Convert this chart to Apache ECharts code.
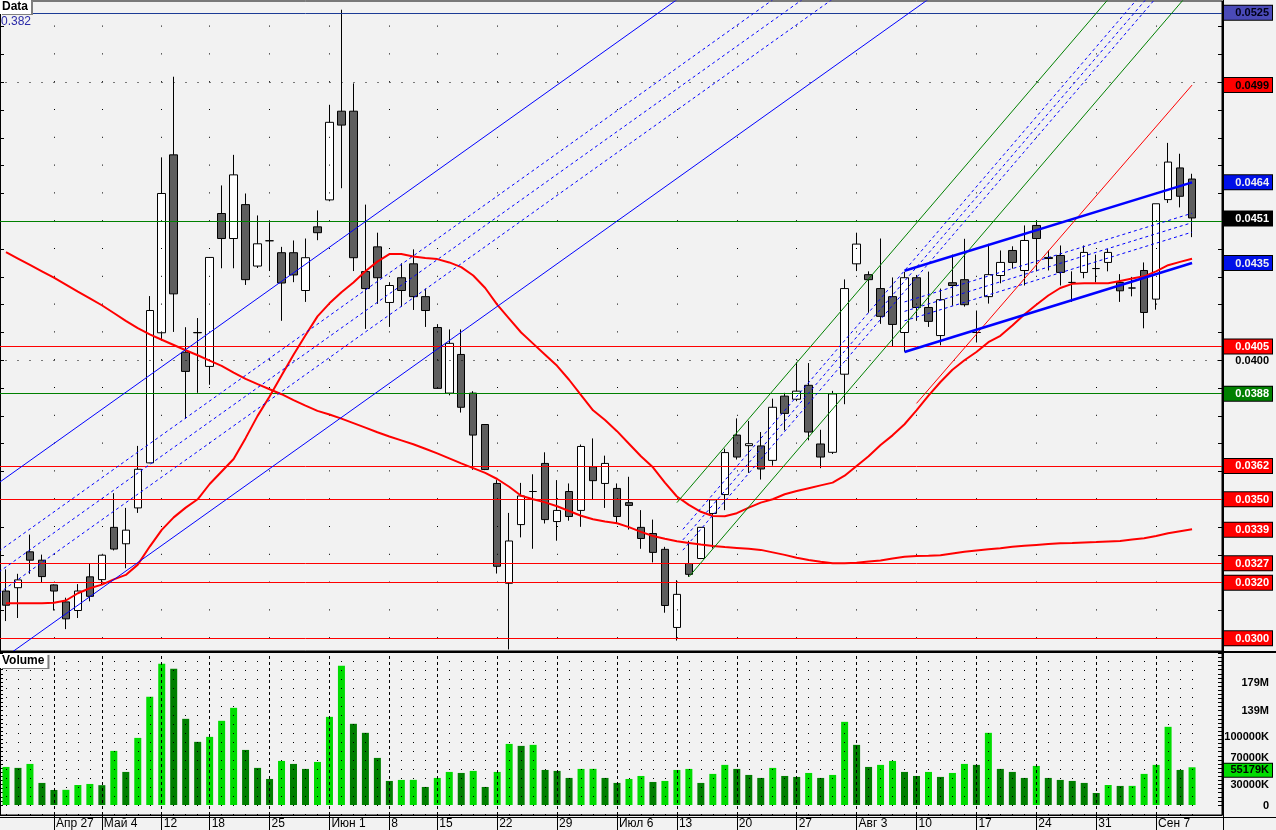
<!DOCTYPE html>
<html><head><meta charset="utf-8">
<script src="https://cdn.jsdelivr.net/npm/echarts@6/dist/echarts.min.js"></script>
<style>html,body{margin:0;padding:0;background:#f2f2f2;}#c{width:1276px;height:830px;}</style>
</head><body><div id="c"></div>
<script>
const dates = ['2009-04-21','2009-04-22','2009-04-23','2009-04-24','2009-04-27','2009-04-28','2009-04-29','2009-04-30',
'2009-05-04','2009-05-05','2009-05-06','2009-05-07','2009-05-08','2009-05-12','2009-05-13','2009-05-14','2009-05-15',
'2009-05-18','2009-05-19','2009-05-20','2009-05-21','2009-05-22','2009-05-25','2009-05-26','2009-05-27','2009-05-28','2009-05-29',
'2009-06-01','2009-06-02','2009-06-03','2009-06-04','2009-06-05','2009-06-08','2009-06-09','2009-06-10','2009-06-11',
'2009-06-15','2009-06-16','2009-06-17','2009-06-18','2009-06-19','2009-06-22','2009-06-23','2009-06-24','2009-06-25','2009-06-26',
'2009-06-29','2009-06-30','2009-07-01','2009-07-02','2009-07-03','2009-07-06','2009-07-07','2009-07-08','2009-07-09','2009-07-10',
'2009-07-13','2009-07-14','2009-07-15','2009-07-16','2009-07-17','2009-07-20','2009-07-21','2009-07-22','2009-07-23','2009-07-24',
'2009-07-27','2009-07-28','2009-07-29','2009-07-30','2009-07-31','2009-08-03','2009-08-04','2009-08-05','2009-08-06','2009-08-07',
'2009-08-10','2009-08-11','2009-08-12','2009-08-13','2009-08-14','2009-08-17','2009-08-18','2009-08-19','2009-08-20','2009-08-21',
'2009-08-24','2009-08-25','2009-08-26','2009-08-27','2009-08-28','2009-08-31','2009-09-01','2009-09-02','2009-09-03','2009-09-04',
'2009-09-07','2009-09-08','2009-09-09','2009-09-10'];

const open = [0.03170,0.03182,0.03311,0.03281,0.03192,0.03131,0.03100,0.03221,0.03211,0.03399,
0.03340,0.03469,0.03631,0.04099,0.04739,0.04029,0.04099,0.03978,0.04528,0.04438,
0.04560,0.04339,0.04430,0.04387,0.04387,0.04251,0.04480,0.04577,0.04896,0.04896,
0.04319,0.04408,0.04208,0.04297,0.04347,0.04229,0.04118,0.03882,0.04021,0.03882,
0.03769,0.03557,0.03198,0.03409,0.03528,0.03629,0.03420,0.03528,0.03460,0.03617,
0.03557,0.03539,0.03488,0.03399,0.03377,0.03320,0.03039,0.03269,0.03287,0.03449,
0.03517,0.03731,0.03693,0.03692,0.03640,0.03871,0.03860,0.03910,0.03699,0.03669,
0.03950,0.04347,0.04308,0.04258,0.04229,0.04100,0.04297,0.04190,0.04089,0.04279,
0.04290,0.04100,0.04229,0.04305,0.04395,0.04323,0.04485,0.04366,0.04377,0.04280,
0.04316,0.04330,0.04352,0.04280,0.04260,0.04323,0.04220,0.04578,0.04692,0.04652];
const close = [0.03119,0.03210,0.03281,0.03222,0.03170,0.03070,0.03170,0.03151,0.03299,0.03321,
0.03389,0.03608,0.04179,0.04600,0.04239,0.03960,0.04100,0.04370,0.04438,0.04667,
0.04290,0.04419,0.04430,0.04278,0.04307,0.04369,0.04459,0.04856,0.04846,0.04369,
0.04258,0.04297,0.04269,0.04251,0.04229,0.04179,0.03899,0.04061,0.03831,0.03731,
0.03607,0.03259,0.03350,0.03512,0.03528,0.03427,0.03460,0.03438,0.03690,0.03567,
0.03629,0.03438,0.03478,0.03359,0.03309,0.03118,0.03158,0.03230,0.03399,0.03498,
0.03668,0.03652,0.03700,0.03609,0.03831,0.03809,0.03889,0.03742,0.03652,0.03879,
0.04258,0.04418,0.04290,0.04158,0.04129,0.04297,0.04190,0.04140,0.04218,0.04269,
0.04200,0.04100,0.04308,0.04352,0.04352,0.04431,0.04438,0.04370,0.04316,0.04280,
0.04388,0.04330,0.04388,0.04250,0.04260,0.04172,0.04563,0.04713,0.04590,0.04512];
const low = [0.03062,0.03073,0.03232,0.03200,0.03100,0.03033,0.03073,0.03133,0.03192,0.03316,
0.03252,0.03451,0.03630,0.04071,0.04102,0.03790,0.03883,0.03912,0.04331,0.04331,
0.04271,0.04332,0.04321,0.04142,0.04281,0.04210,0.04432,0.04572,0.04619,0.04321,
0.04113,0.04203,0.04120,0.04193,0.04181,0.04120,0.03898,0.03874,0.03812,0.03606,
0.03605,0.03233,0.02960,0.03363,0.03322,0.03413,0.03351,0.03423,0.03401,0.03500,
0.03469,0.03413,0.03391,0.03322,0.03273,0.03092,0.02992,0.03221,0.03285,0.03323,
0.03461,0.03643,0.03595,0.03571,0.03621,0.03748,0.03853,0.03712,0.03612,0.03663,
0.03842,0.04321,0.04171,0.04131,0.04050,0.04031,0.04142,0.04120,0.04054,0.04196,
0.04193,0.04064,0.04204,0.04277,0.04330,0.04269,0.04320,0.04323,0.04269,0.04210,
0.04295,0.04280,0.04320,0.04210,0.04230,0.04115,0.04182,0.04566,0.04550,0.04443];
const high = [0.03248,0.03232,0.03373,0.03301,0.03194,0.03146,0.03195,0.03270,0.03300,0.03522,
0.03469,0.03692,0.04231,0.04730,0.05020,0.04119,0.04152,0.04371,0.04629,0.04739,
0.04600,0.04521,0.04497,0.04408,0.04431,0.04438,0.04539,0.04919,0.05261,0.04996,
0.04560,0.04459,0.04281,0.04349,0.04399,0.04258,0.04130,0.04111,0.04111,0.03889,
0.03770,0.03569,0.03451,0.03559,0.03590,0.03669,0.03569,0.03557,0.03697,0.03719,
0.03657,0.03557,0.03581,0.03461,0.03427,0.03329,0.03209,0.03351,0.03400,0.03500,
0.03682,0.03791,0.03782,0.03742,0.03862,0.03883,0.03993,0.03990,0.03750,0.03890,
0.04291,0.04459,0.04320,0.04438,0.04298,0.04318,0.04307,0.04319,0.04258,0.04380,
0.04437,0.04179,0.04419,0.04395,0.04410,0.04485,0.04503,0.04395,0.04413,0.04320,
0.04413,0.04380,0.04400,0.04310,0.04300,0.04352,0.04563,0.04782,0.04743,0.04671];

const volumeK = [55700,54300,60100,32300,22000,22200,29300,30800,29000,79200,
48400,98200,158400,206700,199400,126100,92400,99700,123200,142200,
80600,54300,38100,64500,60100,52800,63000,129000,203800,118800,
105600,68900,35200,36700,36800,26400,39600,48400,46900,49900,
26400,48400,89400,86500,88000,51300,49900,39600,52800,52900,
39600,32300,38100,42500,33700,35200,51300,52800,32300,45500,
58700,52800,44000,39600,54300,42500,41100,46900,39600,44000,
121700,88000,55700,58700,64500,48400,42500,48400,41100,46900,
60100,58700,105600,52800,48400,39600,57200,39600,36700,35200,
32300,17600,29300,27900,28000,45500,58700,114400,51300,55179];

const maShort = [0.03126,0.03126,0.03126,0.03126,0.03128,0.03136,0.03162,0.03180,0.03193,0.03212,
0.03228,0.03265,0.03330,0.03390,0.03435,0.03470,0.03500,0.03555,0.03600,0.03645,
0.03720,0.03800,0.03870,0.03945,0.04020,0.04090,0.04158,0.04205,0.04245,0.04280,
0.04320,0.04355,0.04382,0.04382,0.04373,0.04368,0.04364,0.04352,0.04335,0.04305,
0.04260,0.04200,0.04150,0.04100,0.04060,0.04020,0.03980,0.03930,0.03875,0.03820,
0.03785,0.03745,0.03700,0.03655,0.03615,0.03560,0.03510,0.03480,0.03455,0.03440,
0.03439,0.03450,0.03470,0.03488,0.03500,0.03518,0.03530,0.03540,0.03550,0.03560,
0.03585,0.03620,0.03655,0.03695,0.03730,0.03770,0.03820,0.03873,0.03922,0.03966,
0.04000,0.04030,0.04065,0.04088,0.04125,0.04165,0.04200,0.04233,0.04260,0.04275,
0.04277,0.04277,0.04277,0.04285,0.04294,0.04302,0.04320,0.04342,0.04354,0.04365];
const maLong = [0.04389,0.04366,0.04343,0.04320,0.04297,0.04272,0.04247,0.04223,0.04198,0.04170,
0.04142,0.04116,0.04093,0.04074,0.04055,0.04036,0.04018,0.03999,0.03980,0.03956,
0.03933,0.03914,0.03896,0.03878,0.03857,0.03837,0.03818,0.03805,0.03790,0.03774,
0.03758,0.03741,0.03726,0.03712,0.03698,0.03682,0.03665,0.03647,0.03629,0.03612,
0.03595,0.03573,0.03545,0.03513,0.03500,0.03489,0.03475,0.03458,0.03441,0.03428,
0.03420,0.03414,0.03400,0.03383,0.03368,0.03358,0.03349,0.03343,0.03337,0.03332,
0.03328,0.03325,0.03322,0.03318,0.03309,0.03300,0.03290,0.03282,0.03275,0.03270,
0.03270,0.03272,0.03276,0.03280,0.03287,0.03293,0.03296,0.03297,0.03299,0.03305,
0.03311,0.03316,0.03320,0.03324,0.03329,0.03333,0.03336,0.03339,0.03342,0.03343,
0.03345,0.03346,0.03348,0.03350,0.03355,0.03360,0.03368,0.03378,0.03385,0.03392];

const tickDates = ['2009-04-27','2009-05-04','2009-05-12','2009-05-18','2009-05-25','2009-06-01','2009-06-08','2009-06-15',
'2009-06-22','2009-06-29','2009-07-06','2009-07-13','2009-07-20','2009-07-27','2009-08-03','2009-08-10','2009-08-17',
'2009-08-24','2009-08-31','2009-09-07'];
const tickLabels = ['Апр 27','Май 4','12','18','25','Июн 1','8','15','22','29','Июл 6','13','20','27','Авг 3','10','17','24','31','Сен 7'];

// horizontal levels
const redLevels = [0.0405, 0.0362, 0.0350, 0.0327, 0.0320, 0.0300];
const greenLevels = [0.0450, 0.0388];
const navyLevels = [0.0525];
const gridDotLevels = [0.0400, 0.0500];

// trendlines as [barIndex, price] endpoints
const blueChannel = [[[-1,0.03547],[60,0.05420]], [[-1,0.02904],[80,0.05391]]];
const blueChannelFib = [[[-1,0.03150],[80,0.05637]], [[-1,0.03226],[80,0.05713]], [[-1,0.03301],[80,0.05788]]];
const greenChannel = [[[56,0.03488],[100,0.05701]], [[57,0.03221],[100,0.05384]]];
const greenChannelFib = [[[56.5,0.03317],[100,0.05505]], [[56.5,0.03354],[100,0.05542]], [[56.5,0.03392],[100,0.05580]]];
const redTrend = [[[76,0.03845],[99,0.04990]]];
const blueWedge = [[[75,0.04322],[99,0.04640]], [[75,0.04030],[99,0.04350]]];
const blueWedgeFib = [[[75,0.04142],[99,0.04461]], [[75,0.04176],[99,0.04495]], [[75,0.04210],[99,0.04529]]];

// right axis labels
const priceLabelValues = [0.0525,0.0499,0.0464,0.0451,0.0435,0.0405,0.0400,0.0388,0.0362,0.0350,0.0339,0.0327,0.0320,0.0300];
const priceLabelKinds  = ['navy','redK','blue','black','blue','red','plain','green','red','red','red','red','red','red'];
const volLabelValues = [0,30000,70000,100000,139000,179000,55179];
const volLabelTexts = ['0','30000K','70000K','100000K','139M','179M','55179K'];
const volLabelKinds = ['plain','plain','plain','plain','plain','plain','vol'];

const cats = dates.concat([' ', '  ']);
const weekIdx = tickDates.map(d => dates.indexOf(d));
const LIGHT = '#00dc00', DARK = '#007f00';
const volColors = volumeK.map((v,i) => (i === 0 || v >= volumeK[i-1]) ? LIGHT : DARK);

const baseLbl = {fontFamily:'Liberation Sans', fontWeight:'bold', fontSize:11, width:45, align:'right', padding:[2,3,1,1], lineHeight:11, borderColor:'#000', borderWidth:1};
const rich = {
  navy: Object.assign({}, baseLbl, {backgroundColor:'#4a4ab8', color:'#000018'}),
  redK: Object.assign({}, baseLbl, {backgroundColor:'#ff0000', color:'#000'}),
  red: Object.assign({}, baseLbl, {backgroundColor:'#ff0000', color:'#ffffff'}),
  blue: Object.assign({}, baseLbl, {backgroundColor:'#0010e8', color:'#f0f0f0'}),
  black: Object.assign({}, baseLbl, {backgroundColor:'#000000', color:'#ffffff'}),
  green: Object.assign({}, baseLbl, {backgroundColor:'#008000', color:'#ffffff'}),
  vol: Object.assign({}, baseLbl, {backgroundColor:'#00dc00', color:'#000', padding:[1,3,1,1]}),
  gap: {height:6, lineHeight:6, fontSize:1},
  plain: Object.assign({}, baseLbl, {borderWidth:0, color:'#000'})
};

const priceTicks = [];
for (let k = 30; k <= 52; k++) priceTicks.push(k / 1000);
const volTicks = [];
for (let k = 0; k <= 222000; k += 6000) volTicks.push(k);

function segSeries(lines, color, width, type, z) {
  return lines.map(seg => ({
    type:'line', xAxisIndex:1, yAxisIndex:0, data: seg, symbol:'none', clip:true, silent:true,
    lineStyle:{color:color, width:width, type:type}, z:z, animation:false
  }));
}
const mlBase = {silent:true, symbol:['none','none'], label:{show:false}, animation:false, precision:6};

const chart = echarts.init(document.getElementById('c'), null, {renderer:'canvas'});
const option = {
  animation:false,
  backgroundColor:'#f2f2f2',
  title:[
    {text:'Data', left:0, top:0, padding:[1,3,1,2], backgroundColor:'#ffffff', shadowColor:'#808080', shadowOffsetX:2, shadowOffsetY:1, shadowBlur:0,
     textStyle:{fontSize:12, fontWeight:'bold', color:'#000', fontFamily:'Liberation Sans', lineHeight:12}},
    {text:'0.382', left:1, top:16, padding:0, textStyle:{fontSize:12, fontWeight:'normal', color:'#2a2aa8', fontFamily:'Liberation Sans'}},
    {text:'Volume', left:0, top:654, padding:[1,3,1,2], backgroundColor:'#ffffff', shadowColor:'#808080', shadowOffsetX:2, shadowOffsetY:1, shadowBlur:0,
     textStyle:{fontSize:12, fontWeight:'bold', color:'#000', fontFamily:'Liberation Sans', lineHeight:12}}
  ],
  grid:[
    {left:0, top:1, width:1223, height:650, show:true, backgroundColor:'#f2f2f2', borderColor:'#000', borderWidth:1},
    {left:0, top:652, width:1223, height:163, show:true, backgroundColor:'#f2f2f2', borderColor:'#000', borderWidth:1}
  ],
  xAxis:[
    {type:'category', gridIndex:0, data:cats, boundaryGap:true, show:false},
    {type:'value', gridIndex:0, min:-0.5, max:101.5, show:false},
    {type:'category', gridIndex:1, data:cats, boundaryGap:true, position:'bottom',
     axisLine:{show:true, onZero:false, lineStyle:{color:'#000', width:1}},
     axisTick:{show:true, alignWithLabel:true, length:15, interval:(i) => weekIdx.indexOf(i) >= 0, lineStyle:{color:'#000'}},
     axisLabel:{show:true, interval:(i) => weekIdx.indexOf(i) >= 0, align:'left', margin:3, padding:[0,0,0,2],
       formatter:(v) => { const k = tickDates.indexOf(v); return k >= 0 ? tickLabels[k] : ''; },
       fontSize:12, color:'#000', fontFamily:'Liberation Sans'},
     splitLine:{show:false}}
  ],
  yAxis:[
    {type:'value', gridIndex:0, position:'right', min:0.029543, max:0.052924,
     axisLine:{show:true, onZero:false, lineStyle:{color:'#000'}},
     axisTick:{show:true, inside:true, length:4, customValues:priceTicks, lineStyle:{color:'#000'}},
     axisLabel:{show:true, margin:1, customValues:priceLabelValues, rich:rich,
       formatter:(v) => { let k = priceLabelValues.findIndex(p => Math.abs(p - v) < 1e-7); if (k < 0) return ''; return '{' + priceLabelKinds[k] + '|' + priceLabelValues[k].toFixed(4) + '}'; }},
     splitLine:{show:false}},
    {type:'value', gridIndex:1, position:'right', min:-14640, max:223900,
     axisLine:{show:true, onZero:false, lineStyle:{color:'#000'}},
     axisTick:{show:true, inside:true, length:4, customValues:volTicks, lineStyle:{color:'#000'}},
     axisLabel:{show:true, margin:1, customValues:volLabelValues, rich:rich,
       formatter:(v) => { let k = volLabelValues.findIndex(p => Math.abs(p - v) < 0.5); if (k < 0) return '';
         const s = '{' + volLabelKinds[k] + '|' + volLabelTexts[k] + '}';
         return volLabelKinds[k] === 'vol' ? '{gap| }\n' + s : s; }},
     splitLine:{show:false}},
    {type:'value', gridIndex:0, position:'left', min:0.029543, max:0.052924,
     axisLine:{show:true, onZero:false, lineStyle:{color:'#000'}},
     axisTick:{show:true, inside:true, length:4, customValues:priceTicks, lineStyle:{color:'#000'}},
     axisLabel:{show:false}, splitLine:{show:false}},
    {type:'value', gridIndex:1, position:'left', min:-14640, max:223900,
     axisLine:{show:true, onZero:false, lineStyle:{color:'#000'}},
     axisTick:{show:true, inside:true, length:3, customValues:volTicks, lineStyle:{color:'#000'}},
     axisLabel:{show:false}, splitLine:{show:false}}
  ],
  series:[
    {type:'line', xAxisIndex:0, yAxisIndex:0, data:close, symbol:'none', silent:true, lineStyle:{opacity:0}, z:1,
     markLine:Object.assign({}, mlBase, {
       data: tickDates.map(d => ({xAxis:d, lineStyle:{color:'#000', width:1, type:[1,26.8], dashOffset:15}}))
         .concat(gridDotLevels.map(v => ({yAxis:v, lineStyle:{color:'#000', width:1, type:[1,11], dashOffset:6.5}})))})},
    {type:'line', xAxisIndex:0, yAxisIndex:0, data:close, symbol:'none', silent:true, lineStyle:{opacity:0}, z:5,
     markLine:Object.assign({}, mlBase, {
       data: redLevels.map(v => ({yAxis:v, lineStyle:{color:'#ff0000', width:1, type:'solid'}}))
         .concat(greenLevels.map(v => ({yAxis:v, lineStyle:{color:'#008000', width:1.2, type:'solid'}})))
         .concat(navyLevels.map(v => ({yAxis:v, lineStyle:{color:'#1c3c96', width:1, type:'solid'}})))})},
    {type:'candlestick', xAxisIndex:0, yAxisIndex:0, barWidth:8, z:3,
     data: dates.map((d,i) => [open[i], close[i], low[i], high[i]]),
     itemStyle:{color:'#ffffff', color0:'#5e5e5e', borderColor:'#000', borderColor0:'#000', borderWidth:1}},
    {type:'line', xAxisIndex:0, yAxisIndex:0, data:maShort, symbol:'none', silent:true, lineStyle:{color:'#ff0000', width:2}, z:6},
    {type:'line', xAxisIndex:0, yAxisIndex:0, data:maLong, symbol:'none', silent:true, lineStyle:{color:'#ff0000', width:2}, z:6}
  ].concat(segSeries(blueChannel, '#0000ff', 1, 'solid', 7))
   .concat(segSeries(blueChannelFib, '#0000ff', 1, [3,3], 7))
   .concat(segSeries(greenChannel, '#008000', 1, 'solid', 7))
   .concat(segSeries(greenChannelFib, '#0000ff', 1, [3,3], 7))
   .concat(segSeries(redTrend, '#ff0000', 1, 'solid', 7))
   .concat(segSeries(blueWedge, '#0000ff', 2.5, 'solid', 8))
   .concat(segSeries(blueWedgeFib, '#0000ff', 1, [3,3], 7))
   .concat([
    {type:'line', xAxisIndex:2, yAxisIndex:1, data:volumeK, symbol:'none', silent:true, lineStyle:{opacity:0}, z:1,
     markLine:Object.assign({}, mlBase, {
       data: dates.map((d,i) => weekIdx.indexOf(i) >= 0
         ? {xAxis:d, lineStyle:{color:'#000', width:1, type:[3,3]}}
         : {xAxis:d, lineStyle:{color:'#000', width:1, type:[1,8]}})})},
    {type:'bar', xAxisIndex:2, yAxisIndex:1, barWidth:7, z:3,
     data: volumeK.map((v,i) => ({value:v, itemStyle:{color:volColors[i]}}))}
  ]),
  graphic:[
    {type:'rect', shape:{x:0, y:651, width:1276, height:2}, style:{fill:'#000'}, z:100, silent:true},
    {type:'line', shape:{x1:0, y1:817.5, x2:1276, y2:817.5}, style:{stroke:'#000', lineWidth:1}, z:100, silent:true},
    {type:'line', shape:{x1:1223.5, y1:0, x2:1223.5, y2:830}, style:{stroke:'#000', lineWidth:1}, z:100, silent:true}
  ]
};
chart.setOption(option);
</script>
</body></html>
